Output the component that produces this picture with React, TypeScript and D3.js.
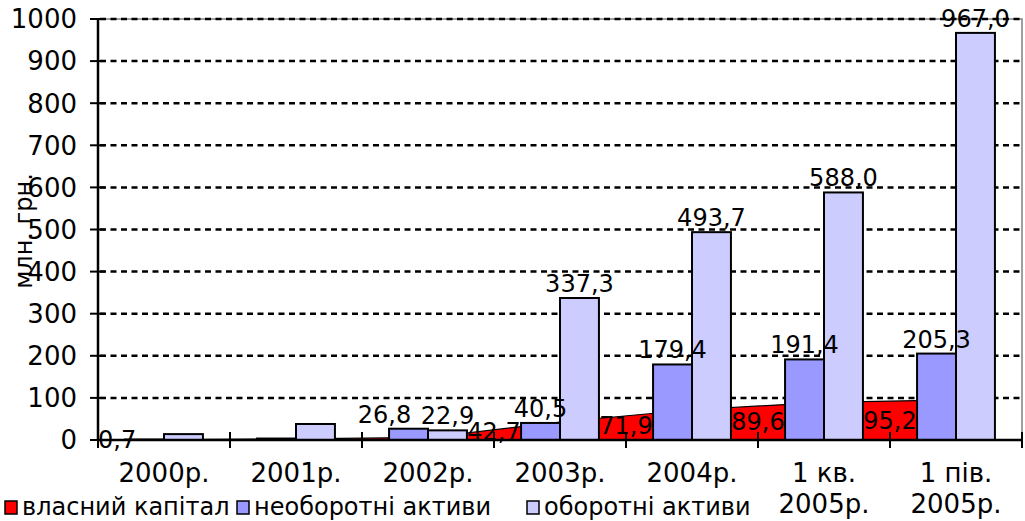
import * as d3 from 'd3';

const categories = ['2000р.', '2001р.', '2002р.', '2003р.', '2004р.', '1 кв.|2005р.', '1 пів.|2005р.'];
const equity = [0.7, 2.5, 6.0, 42.7, 71.9, 89.6, 95.2]; // власний капітал
const fixedAssets = [1.2, 3.5, 26.8, 40.5, 179.4, 191.4, 205.3]; // необоротні активи
const currentAssets = [14.0, 38.0, 22.9, 337.3, 493.7, 588.0, 967.0]; // оборотні активи
const yTicks = [0, 100, 200, 300, 400, 500, 600, 700, 800, 900, 1000];

// which values carry a data label in the original
const equityLabelled = [0, 3, 4, 5, 6];
const fixedLabelled = [2, 3, 4, 5, 6];
const currentLabelled = [2, 3, 4, 5, 6];

const seriesNames = ['власний капітал', 'необоротні активи', 'оборотні активи'];
const colors = ['#ff0000', '#9999ff', '#ccccff'];

const W = 1025;
const H = 521;
const left = 98;
const right = 1022;
const top = 19;
const bottom = 440;
const font = '"DejaVu Sans", Verdana, sans-serif';

const fmt = (v: number) => v.toFixed(1).replace('.', ',');

export default function App() {
  const x = d3.scaleBand<string>().domain(categories).range([left, right]).padding(0);
  const bw = x.bandwidth();
  const inner = d3
    .scaleBand<string>()
    .domain(['fixed', 'current'])
    .range([bw * 0.205, bw * 0.795])
    .padding(0);
  const y = d3.scaleLinear().domain([0, 1000]).range([bottom, top]);

  const area = d3
    .area<number>()
    .x((_, i) => (x(categories[i]) as number) + bw / 2)
    .y0(y(0))
    .y1((d) => y(d));
  const line = d3
    .line<number>()
    .x((_, i) => (x(categories[i]) as number) + bw / 2)
    .y((d) => y(d));

  const bars = [
    { key: 'fixed', values: fixedAssets, color: colors[1], labelled: fixedLabelled },
    { key: 'current', values: currentAssets, color: colors[2], labelled: currentLabelled },
  ];

  // nudge for labels that Excel pushed aside to avoid overlap
  const labelShift: Record<string, number> = { 'fixed-2': -24 };

  const legendX = [5, 237, 527];

  return (
    <svg width={W} height={H} style={{ position: 'absolute', left: 0, top: 0, background: '#fff' }} fontFamily={font}>
      {/* plot border */}
      <rect x={left} y={top} width={right - left} height={bottom - top} fill="none" stroke="#808080" strokeWidth={1.5} />

      {/* grid */}
      {yTicks
        .filter((t) => t > 0)
        .map((t) => (
          <line key={t} x1={left + 2} x2={right} y1={y(t)} y2={y(t)} stroke="#000" strokeWidth={2.5} strokeDasharray="6 4.5" />
        ))}

      {/* equity area */}
      <path d={area(equity) || ''} fill={colors[0]} />
      <path d={line(equity) || ''} fill="none" stroke="#000" strokeWidth={1.2} />

      {/* bars */}
      {bars.map((s) =>
        s.values.map((v, i) => (
          <rect
            key={s.key + i}
            x={(x(categories[i]) as number) + (inner(s.key) as number)}
            y={y(v)}
            width={inner.bandwidth()}
            height={y(0) - y(v)}
            fill={s.color}
            stroke="#000"
            strokeWidth={2}
          />
        ))
      )}

      {/* axes */}
      <line x1={left} x2={left} y1={top} y2={bottom} stroke="#000" strokeWidth={2.5} />
      <line x1={left} x2={right} y1={bottom} y2={bottom} stroke="#000" strokeWidth={2.5} />
      {yTicks.map((t) => (
        <g key={t}>
          <line x1={left - 8} x2={left + 7} y1={y(t)} y2={y(t)} stroke="#000" strokeWidth={2} />
          <text x={77} y={y(t)} dy="0.36em" textAnchor="end" fontSize={26}>
            {t}
          </text>
        </g>
      ))}
      {categories.map((c, i) => (
        <line
          key={'t' + i}
          x1={x(c) as number}
          x2={x(c) as number}
          y1={bottom - 8}
          y2={bottom + 8}
          stroke="#000"
          strokeWidth={2}
        />
      ))}
      <line x1={right} x2={right} y1={bottom - 8} y2={bottom + 8} stroke="#000" strokeWidth={2} />
      {categories.map((c) => {
        const lines = c.split('|');
        return (
          <text key={c} x={(x(c) as number) + bw / 2} y={482} textAnchor="middle" fontSize={26}>
            {lines.map((l, j) => (
              <tspan key={j} x={(x(c) as number) + bw / 2} dy={j === 0 ? 0 : 31}>
                {l}
              </tspan>
            ))}
          </text>
        );
      })}

      {/* y title */}
      <text transform={`translate(32,231) rotate(-90)`} textAnchor="middle" fontSize={24}>
        млн. грн.
      </text>

      {/* bar labels */}
      {bars.map((s) =>
        s.labelled.map((i) => {
          const v = s.values[i];
          const cx = (x(categories[i]) as number) + (inner(s.key) as number) + inner.bandwidth() / 2;
          return (
            <text
              key={'l' + s.key + i}
              x={cx + (labelShift[`${s.key}-${i}`] || 0)}
              y={y(v) - 6}
              textAnchor="middle"
              fontSize={24}
            >
              {fmt(v)}
            </text>
          );
        })
      )}

      {/* equity labels, placed at the left boundary of each category */}
      {equityLabelled.map((i) => {
        const v = equity[i];
        const px = x(categories[i]) as number;
        const atEdge = px <= left;
        return (
          <text
            key={'e' + i}
            x={px}
            y={y(v / 2)}
            dy="0.36em"
            textAnchor={atEdge ? 'start' : 'middle'}
            fontSize={24}
          >
            {fmt(v)}
          </text>
        );
      })}

      {/* legend */}
      {seriesNames.map((n, i) => (
        <g key={n}>
          <rect x={legendX[i]} y={501} width={12} height={13} fill={colors[i]} stroke="#000" strokeWidth={1.5} />
          <text x={legendX[i] + 17} y={515} fontSize={24}>
            {n}
          </text>
        </g>
      ))}
    </svg>
  );
}
